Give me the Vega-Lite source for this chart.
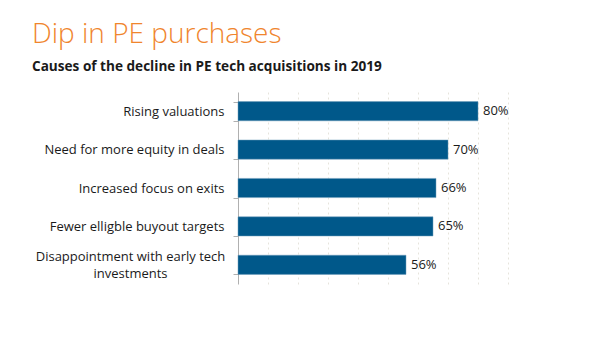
{
  "$schema": "https://vega.github.io/schema/vega-lite/v6.json",
  "width": 270,
  "height": 192,
  "autosize": {"type": "none"},
  "padding": {"left": 238, "top": 92, "right": 92, "bottom": 56},
  "background": "white",
  "title": {
    "text": "Dip in PE purchases",
    "subtitle": "Causes of the decline in PE tech acquisitions in 2019",
    "anchor": "start",
    "frame": "group",
    "dx": -206,
    "offset": 12,
    "font": "Open Sans",
    "fontSize": 28,
    "fontWeight": 300,
    "color": "#F0852D",
    "subtitleFont": "Open Sans",
    "subtitleFontSize": 13.6,
    "subtitleFontWeight": "bold",
    "subtitleColor": "#1a1a1a",
    "subtitlePadding": 11
  },
  "data": {
    "values": [
      {"cause": "Rising valuations", "share": 0.80},
      {"cause": "Need for more equity in deals", "share": 0.70},
      {"cause": "Increased focus on exits", "share": 0.66},
      {"cause": "Fewer elligble buyout targets", "share": 0.65},
      {"cause": "Disappointment with early tech investments", "share": 0.56}
    ]
  },
  "encoding": {
    "y": {
      "field": "cause",
      "type": "nominal",
      "sort": null,
      "title": null,
      "scale": {"paddingInner": 0.5, "paddingOuter": 0.25},
      "axis": {
        "domainColor": "#b0b0b0",
        "tickColor": "#b0b0b0",
        "tickSize": 5,
        "tickBand": "extent",
        "labelFont": "Open Sans",
        "labelFontSize": 13,
        "labelColor": "#1a1a1a",
        "labelLimit": 300,
        "labelLineHeight": 17,
        "labelExpr": "datum.value == 'Disappointment with early tech investments' ? ['Disappointment with early tech', 'investments'] : datum.value",
        "labelOffset": {
          "condition": {"test": "datum.value == 'Disappointment with early tech investments'", "value": -8},
          "value": 0
        },
        "labelAlign": {
          "condition": {"test": "datum.value == 'Disappointment with early tech investments'", "value": "center"},
          "value": "right"
        },
        "labelPadding": {
          "condition": {"test": "datum.value == 'Disappointment with early tech investments'", "value": 103},
          "value": 9
        }
      }
    },
    "x": {
      "field": "share",
      "type": "quantitative",
      "title": null,
      "scale": {"domain": [0, 0.9]},
      "axis": {
        "values": [0.1, 0.2, 0.3, 0.4, 0.5, 0.6, 0.7, 0.8, 0.9],
        "labels": false,
        "ticks": false,
        "domain": false,
        "grid": true,
        "gridColor": "#e6e4dc",
        "gridDash": [2, 3],
        "gridWidth": 1
      }
    }
  },
  "layer": [
    {
      "mark": {"type": "bar", "color": "#00588A", "stroke": "#6f9cbb", "strokeWidth": 0.5}
    },
    {
      "mark": {"type": "text", "align": "left", "dx": 5, "font": "Open Sans", "fontSize": 13, "color": "#1a1a1a"},
      "encoding": {"text": {"field": "share", "type": "quantitative", "format": ".0%"}}
    }
  ],
  "config": {"view": {"stroke": null}}
}
